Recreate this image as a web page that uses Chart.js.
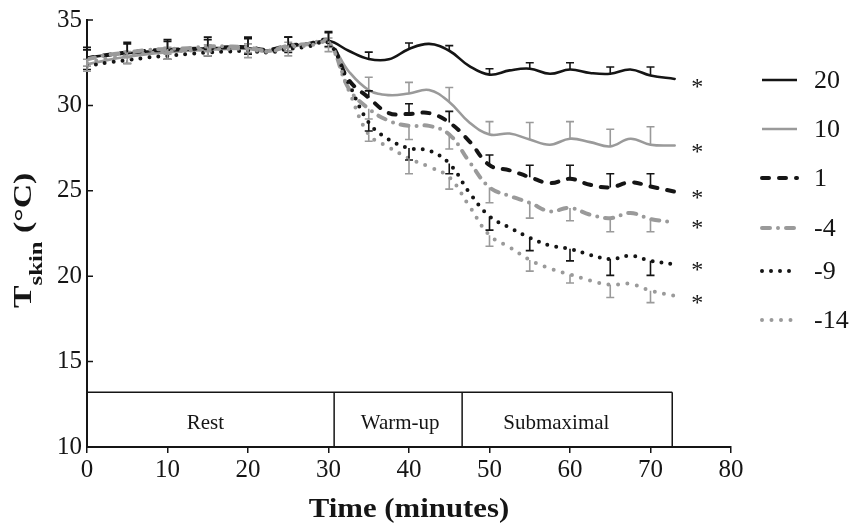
<!DOCTYPE html>
<html>
<head>
<meta charset="utf-8">
<script src="https://cdn.jsdelivr.net/npm/chart.js@4.4.0/dist/chart.umd.min.js"></script>
<style>
  html, body { margin: 0; padding: 0; background: #fff; }
</style>
</head>
<body>
<canvas id="graph" width="855" height="525"></canvas>
<script>
'use strict';

// sample times (minutes)
const times = [0, 2.5, 5, 7.5, 10, 12.5, 15, 17.5, 20, 22.5, 25, 27.5, 30,
    32.5, 35, 37.5, 40, 42.5, 45, 47.5, 50, 52.5, 55, 57.5, 60, 62.5, 65, 67.5, 70, 73];

// skin temperature (°C) for each ambient temperature
const t20 = [32.8, 32.95, 33.05, 33.15, 33.25, 33.3, 33.35, 33.35, 33.35, 33.2, 33.45, 33.6, 33.78,
    33.2, 32.72, 32.7, 33.3, 33.6, 33.2, 32.3, 31.8, 32.05, 32.15, 31.85, 32.1, 31.9, 31.85, 32.1, 31.75, 31.55];
const t10 = [32.4, 32.65, 32.85, 33.0, 33.1, 33.2, 33.25, 33.3, 33.3, 33.15, 33.4, 33.55, 33.65,
    32.0, 30.9, 30.6, 30.7, 30.9, 30.2, 29.0, 28.3, 28.35, 28.0, 27.7, 28.05, 27.85, 27.6, 28.05, 27.7, 27.65];
const t1 = [32.75, 32.95, 33.1, 33.2, 33.25, 33.3, 33.35, 33.4, 33.4, 33.25, 33.5, 33.6, 33.75,
    31.5, 30.45, 29.55, 29.5, 29.55, 29.0, 27.9, 26.5, 26.2, 25.8, 25.45, 25.7, 25.35, 25.2, 25.5, 25.25, 24.95];
const tm4 = [32.7, 32.95, 33.1, 33.25, 33.3, 33.35, 33.45, 33.45, 33.4, 33.2, 33.5, 33.6, 33.7,
    31.0, 29.8, 29.1, 28.8, 28.8, 28.3, 26.7, 25.2, 24.7, 24.3, 23.8, 24.0, 23.6, 23.4, 23.7, 23.35, 23.15];
const tm9 = [32.3, 32.5, 32.65, 32.8, 32.9, 33.0, 33.1, 33.15, 33.2, 33.1, 33.3, 33.45, 33.65,
    31.3, 29.0, 28.0, 27.5, 27.35, 26.6, 24.9, 23.5, 22.85, 22.25, 21.8, 21.6, 21.25, 21.0, 21.2, 20.9, 20.7];
const tm14 = [32.5, 32.75, 32.9, 33.05, 33.15, 33.2, 33.3, 33.3, 33.3, 33.15, 33.4, 33.5, 33.6,
    30.9, 28.3, 27.55, 26.9, 26.4, 25.8, 24.1, 22.4, 21.7, 20.95, 20.45, 20.1, 19.75, 19.5, 19.55, 19.15, 18.85];

// error bars every 5 minutes
const errTimes = [0, 5, 10, 15, 20, 25, 30, 35, 40, 45, 50, 55, 60, 65, 70];
const e20 = [0.6, 0.65, 0.6, 0.65, 0.65, 0.55, 0.55, 0.4, 0.35, 0.3, 0.35, 0.35, 0.4, 0.4, 0.5];
const e10 = [0.3, 0.3, 0.3, 0.3, 0.3, 0.3, 0.3, 0.75, 0.65, 0.85, 0.75, 1.0, 1.0, 1.0, 1.05];
const e1 = [0.5, 0.5, 0.5, 0.5, 0.5, 0.5, 0.5, 0.4, 0.6, 0.65, 0.6, 0.7, 0.8, 0.8, 0.75];
const em4 = [0.4, 0.3, 0.3, 0.3, 0.3, 0.3, 0.3, 0.6, 0.8, 0.85, 0.9, 0.9, 0.75, 0.8, 0.75];
const em9 = [0.2, 0.2, 0.2, 0.2, 0.2, 0.2, 0.2, 0.5, 0.7, 0.6, 0.8, 0.75, 0.7, 0.95, 0.85];
const em14 = [0.5, 0.45, 0.45, 0.4, 0.5, 0.5, 0.45, 0.4, 0.9, 0.7, 0.65, 0.65, 0.5, 0.75, 0.7];

const labels = ['20', '10', '1', '-4', '-9', '-14'];
const starY = [31.33, 27.53, 24.82, 23.07, 20.6, 18.67];
const starX = 75.8;

// exercise phases
const phaseEdges = [0, 30.7, 46.6, 72.7];
const phaseNames = ['Rest', 'Warm-up', 'Submaximal'];
const phaseLabelX = [14.7, 38.9, 58.3];
const phaseTop = 13.2;

const xTicks = [0, 10, 20, 30, 40, 50, 60, 70, 80];
const yTicks = [10, 15, 20, 25, 30, 35];

const BLACK = '#151515';
const GREY = '#9a9a9a';
const SERIF = '"Liberation Serif", "Times New Roman", serif';

const series = [t20, t10, t1, tm4, tm9, tm14];
const errors = [e20, e10, e1, em4, em9, em14];
const errDir = [1, 1, 1, -1, -1, -1];
const looks = [
    { color: BLACK, width: 2.6, dash: [] },
    { color: GREY, width: 2.6, dash: [] },
    { color: BLACK, width: 4, dash: [7, 10] },
    { color: GREY, width: 4, dash: [8, 8, 0, 8] },
    { color: BLACK, width: 4, dash: [0, 9] },
    { color: GREY, width: 4, dash: [0, 9.5] }
];

const datasets = series.map(function (vals, i) {
    return {
        label: labels[i],
        data: vals.map(function (v, j) { return { x: times[j], y: v }; }),
        borderColor: looks[i].color,
        borderWidth: looks[i].width,
        borderDash: looks[i].dash,
        borderCapStyle: 'round',
        borderJoinStyle: 'round',
        tension: 0.4,
        pointRadius: 0,
        fill: false
    };
}).reverse();

const decor = {
    id: 'decor',
    beforeDatasetsDraw(chart) {
        const ctx = chart.ctx, x = chart.scales.x, y = chart.scales.y;
        ctx.save();
        // phase box
        ctx.strokeStyle = BLACK;
        ctx.lineWidth = 1.5;
        const top = y.getPixelForValue(phaseTop), bot = y.getPixelForValue(10);
        ctx.beginPath();
        ctx.moveTo(x.getPixelForValue(phaseEdges[0]), top);
        ctx.lineTo(x.getPixelForValue(phaseEdges[phaseEdges.length - 1]), top);
        phaseEdges.slice(1).forEach(function (t) {
            ctx.moveTo(x.getPixelForValue(t), top);
            ctx.lineTo(x.getPixelForValue(t), bot);
        });
        ctx.stroke();
        ctx.fillStyle = BLACK;
        ctx.font = '21px ' + SERIF;
        ctx.textAlign = 'center';
        ctx.textBaseline = 'middle';
        phaseNames.forEach(function (name, i) {
            ctx.fillText(name, x.getPixelForValue(phaseLabelX[i]), y.getPixelForValue(11.35));
        });
        // inward y ticks
        ctx.lineWidth = 1.5;
        ctx.beginPath();
        yTicks.forEach(function (v) {
            const py = y.getPixelForValue(v);
            ctx.moveTo(x.left, py);
            ctx.lineTo(x.left + 6, py);
        });
        ctx.stroke();
        ctx.restore();
    },
    afterDatasetsDraw(chart) {
        const ctx = chart.ctx, x = chart.scales.x, y = chart.scales.y;
        ctx.save();
        ctx.lineWidth = 1.6;
        series.forEach(function (vals, i) {
            ctx.strokeStyle = looks[i].color;
            ctx.beginPath();
            errTimes.forEach(function (t, k) {
                const v = vals[times.indexOf(t)];
                const px = x.getPixelForValue(t);
                const p0 = y.getPixelForValue(v);
                const p1 = y.getPixelForValue(v + errDir[i] * errors[i][k]);
                ctx.moveTo(px, p0);
                ctx.lineTo(px, p1);
                ctx.moveTo(px - 4, p1);
                ctx.lineTo(px + 4, p1);
            });
            ctx.stroke();
        });
        ctx.restore();
    },
    afterDraw(chart) {
        const ctx = chart.ctx, x = chart.scales.x, y = chart.scales.y;
        ctx.save();
        ctx.fillStyle = BLACK;
        // significance stars
        ctx.font = '24px ' + SERIF;
        ctx.textAlign = 'center';
        ctx.textBaseline = 'alphabetic';
        starY.forEach(function (v) {
            ctx.fillText('*', x.getPixelForValue(starX), y.getPixelForValue(v) + 11);
        });
        // legend
        const legY = [80, 129, 178, 228, 271, 320];
        looks.forEach(function (lk, i) {
            ctx.strokeStyle = lk.color;
            ctx.lineWidth = lk.width;
            ctx.lineCap = lk.dash.length ? 'round' : 'butt';
            ctx.setLineDash(lk.dash);
            ctx.beginPath();
            ctx.moveTo(762, legY[i]);
            ctx.lineTo(797, legY[i]);
            ctx.stroke();
        });
        ctx.setLineDash([]);
        ctx.font = '26px ' + SERIF;
        ctx.textAlign = 'left';
        ctx.textBaseline = 'middle';
        labels.forEach(function (l, i) { ctx.fillText(l, 814, legY[i] + 1); });
        // x title
        ctx.font = 'bold 28px ' + SERIF;
        ctx.textAlign = 'center';
        ctx.textBaseline = 'alphabetic';
        ctx.save();
        ctx.translate((chart.chartArea.left + chart.chartArea.right) / 2, 517);
        ctx.scale(1.1, 1);
        ctx.fillText('Time (minutes)', 0, 0);
        ctx.restore();
        // y title with subscript
        ctx.translate(31, 308);
        ctx.rotate(-Math.PI / 2);
        ctx.scale(1.3, 1);
        ctx.textAlign = 'left';
        ctx.font = 'bold 26px ' + SERIF;
        ctx.fillText('T', 0, 0);
        let w = ctx.measureText('T').width;
        ctx.font = 'bold 19px ' + SERIF;
        ctx.fillText('skin', w, 11);
        w += ctx.measureText('skin').width;
        ctx.font = 'bold 26px ' + SERIF;
        ctx.fillText(' (\u00b0C)', w, 0);
        ctx.restore();
    }
};

const tickFont = { family: SERIF, size: 25 };

new Chart('graph', {
    type: 'line',
    data: { datasets: datasets },
    options: {
        responsive: false,
        animation: false,
        devicePixelRatio: 1,
        layout: { padding: { left: 0, right: 124, top: 19, bottom: 0 } },
        plugins: { legend: { display: false }, tooltip: { enabled: false } },
        scales: {
            x: {
                type: 'linear',
                min: 0,
                max: 80,
                afterBuildTicks: function (s) { s.ticks = xTicks.map(function (v) { return { value: v }; }); },
                afterFit: function (s) { s.height = 78; },
                ticks: { color: BLACK, font: tickFont, padding: 2, maxRotation: 0 },
                grid: { drawOnChartArea: false, drawTicks: true, tickLength: 6, color: BLACK, lineWidth: 1.5 },
                border: { display: true, color: BLACK, width: 2 }
            },
            y: {
                min: 10,
                max: 35,
                afterBuildTicks: function (s) { s.ticks = yTicks.map(function (v) { return { value: v }; }); },
                afterFit: function (s) { s.width = 87; },
                ticks: { color: BLACK, font: tickFont, padding: 5 },
                grid: { drawOnChartArea: false, drawTicks: false },
                border: { display: true, color: BLACK, width: 2 }
            }
        }
    },
    plugins: [decor]
});
</script>
</body>
</html>
